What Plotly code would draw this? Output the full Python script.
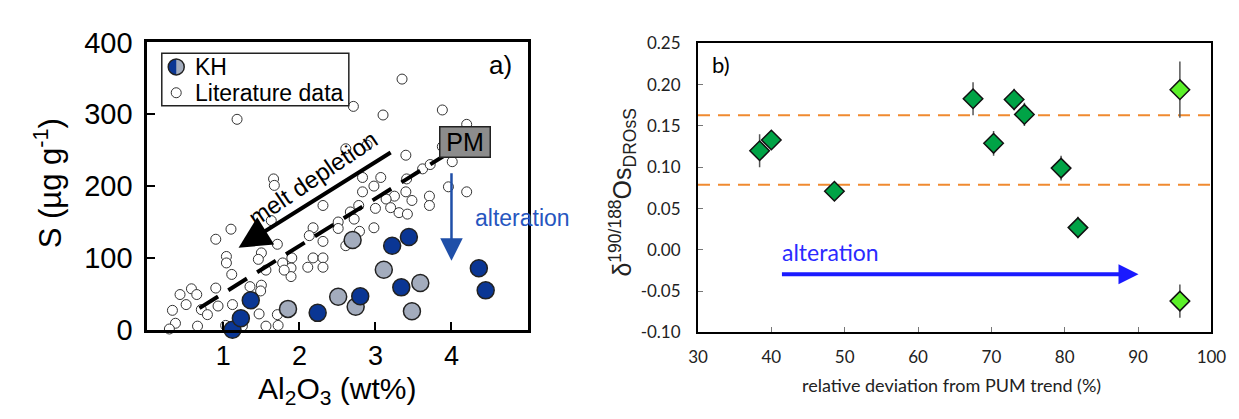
import plotly.graph_objects as go

# ---------------- Panel a) data ----------------
lit_x = [3.35, 1.18, 2.71, 3.10, 3.88, 4.20, 3.88, 4.01, 3.40, 2.61, 2.89, 3.62, 3.72, 3.96, 4.20,
         1.66, 1.67, 2.83, 3.07, 3.41, 2.98, 2.83, 3.40, 3.25, 3.14, 3.48, 3.71, 3.71, 3.20, 3.31,
         3.42, 3.00, 2.78, 2.67, 2.72, 2.31, 1.63, 2.98, 2.51, 2.51, 2.18, 2.13, 2.31, 2.61, 1.10,
         0.90, 1.71, 1.04, 1.04, 1.11, 1.50, 1.46, 1.90, 1.89, 1.89, 1.78, 1.80, 2.11, 2.18, 2.31,
         2.31, 1.56, 0.90, 0.58, 0.65, 0.43, 0.51, 0.33, 0.71, 0.79, 0.93, 1.12, 1.35, 1.50, 1.49,
         1.47, 1.71, 0.37, 0.29, 0.66, 1.03, 1.25, 1.56, 1.72, 2.79]
lit_y = [349, 293, 311, 299, 306, 286, 255, 234, 243, 252, 257, 224, 230, 199, 192,
         210, 201, 212, 212, 210, 200, 192, 192, 186, 182, 180, 186, 173, 170, 163,
         161, 169, 173, 164, 154, 173, 152, 142, 150, 141, 142, 131, 123, 117, 140,
         126, 119, 102, 93, 77, 107, 98, 100, 86, 74, 93, 83, 87, 100, 100,
         87, 83, 58, 57, 49, 49, 35, 27, 28, 21, 33, 35, 60, 62, 54,
         22, 21, 9, 1, 5, 6, 5, 5, 6, 137]
kh_dark_x = [1.12, 1.23, 1.36, 2.24, 2.80, 3.22, 3.44, 3.34, 4.36, 4.45]
kh_dark_y = [0, 16, 41, 23.5, 46.6, 117, 129, 59, 85.6, 54.8]
kh_gray_x = [1.85, 2.51, 2.74, 2.70, 3.11, 3.59, 3.48]
kh_gray_y = [29, 45.8, 32, 125, 83.4, 65, 25.7]
pm_trend_x = [0.685, 3.93]
pm_trend_y = [30, 244]
a_xticks = [1, 2, 3, 4]
a_yticks = [0, 100, 200, 300, 400]

# ---------------- Panel b) data ----------------
dev_x = [38.4, 40.0, 48.6, 67.5, 70.3, 73.1, 74.5, 79.5, 81.8]
dev_y = [0.120, 0.133, 0.071, 0.183, 0.129, 0.182, 0.164, 0.099, 0.027]
dev_err = [0.020, 0.006, 0.005, 0.020, 0.015, 0.013, 0.014, 0.015, 0.013]
dev2_x = [95.7, 95.7]
dev2_y = [0.194, -0.062]
dev2_err = [0.034, 0.020]
ref_levels = [0.163, 0.079]
b_xticks = [30, 40, 50, 60, 70, 80, 90, 100]
b_yticks = [-0.10, -0.05, 0.00, 0.05, 0.10, 0.15, 0.20, 0.25]
b_yticktext = ["-0.10", "-0.05", "0.00", "0.05", "0.10", "0.15", "0.20", "0.25"]

ARIAL = "Liberation Sans, Arial, sans-serif"
CAL = "Lato, Carlito, sans-serif"
W, H = 1239, 419

fig = go.Figure()

# panel a traces
fig.add_trace(go.Scatter(x=lit_x, y=lit_y, mode="markers", xaxis="x", yaxis="y", cliponaxis=False,
                         marker=dict(symbol="circle", size=10, color="white",
                                     line=dict(color="#333333", width=1))))
fig.add_trace(go.Scatter(x=pm_trend_x, y=pm_trend_y, mode="lines", xaxis="x", yaxis="y",
                         line=dict(color="black", width=4, dash="22px,12px")))
fig.add_trace(go.Scatter(x=kh_gray_x, y=kh_gray_y, mode="markers", xaxis="x", yaxis="y", cliponaxis=False,
                         marker=dict(symbol="circle", size=17, color="#a3acbd",
                                     line=dict(color="#222222", width=1.5))))
fig.add_trace(go.Scatter(x=kh_dark_x, y=kh_dark_y, mode="markers", xaxis="x", yaxis="y", cliponaxis=False,
                         marker=dict(symbol="circle", size=17, color="#0a3694",
                                     line=dict(color="#222222", width=1.5))))

# panel b traces
for lvl in ref_levels:
    fig.add_trace(go.Scatter(x=[b_xticks[0], b_xticks[-1]], y=[lvl, lvl], mode="lines",
                             xaxis="x2", yaxis="y2",
                             line=dict(color="#f08a30", width=2, dash="12px,8px")))
fig.add_trace(go.Scatter(x=dev_x, y=dev_y, mode="markers", xaxis="x2", yaxis="y2", cliponaxis=False,
                         error_y=dict(type="data", array=dev_err, visible=True, color="#555555",
                                      thickness=1.5, width=0),
                         marker=dict(symbol="diamond", size=15, color="#00a346",
                                     line=dict(color="#111111", width=1.5))))
fig.add_trace(go.Scatter(x=dev2_x, y=dev2_y, mode="markers", xaxis="x2", yaxis="y2", cliponaxis=False,
                         error_y=dict(type="data", array=dev2_err, visible=True, color="#555555",
                                      thickness=1.5, width=0),
                         marker=dict(symbol="diamond", size=15, color="#5cf02a",
                                     line=dict(color="#111111", width=1.5))))

annotations = []
# panel a annotations
annotations.append(dict(x=1.20, y=114, ax=3.22, ay=248, xref="x", yref="y", axref="x", ayref="y",
                        text="", showarrow=True, arrowhead=2, arrowsize=1.6, arrowwidth=4,
                        arrowcolor="black", standoff=0))
annotations.append(dict(x=2.17, y=211, xref="x", yref="y", text="melt depletion", showarrow=False,
                        textangle=-34, xanchor="center", yanchor="middle",
                        font=dict(family=ARIAL, size=24, color="black")))
annotations.append(dict(x=4.0, y=96, ax=4.0, ay=220, xref="x", yref="y", axref="x", ayref="y",
                        text="", showarrow=True, arrowhead=2, arrowsize=1.8, arrowwidth=2.5,
                        arrowcolor="#1f4fa8", standoff=0))
annotations.append(dict(x=4.93, y=156, xref="x", yref="y", text="alteration", showarrow=False,
                        xanchor="center", yanchor="middle",
                        font=dict(family=ARIAL, size=23, color="#2656c0")))
annotations.append(dict(x=4.18, y=261, xref="x", yref="y", text="PM", showarrow=False,
                        xanchor="center", yanchor="middle",
                        bgcolor="#8c8c8c", bordercolor="#222222", borderwidth=1.5, borderpad=1,
                        width=47, height=27, font=dict(family=ARIAL, size=25, color="black")))
annotations.append(dict(x=4.65, y=368, xref="x", yref="y", text="a)", showarrow=False,
                        xanchor="center", yanchor="middle",
                        font=dict(family=ARIAL, size=26, color="black")))
annotations.append(dict(x=0.60, y=366, xref="x", yref="y", text="KH", showarrow=False,
                        xanchor="left", yanchor="middle",
                        font=dict(family=ARIAL, size=23, color="black")))
annotations.append(dict(x=0.60, y=330, xref="x", yref="y", text="Literature data", showarrow=False,
                        xanchor="left", yanchor="middle",
                        font=dict(family=ARIAL, size=23, color="black")))
# axis titles panel a
annotations.append(dict(x=30 / W, y=1 - 172 / H, xref="paper", yref="paper", showarrow=False,
                        xanchor="center", yanchor="middle",
                        text="S (µg g<sup>-1</sup>)", textangle=-90,
                        font=dict(family=ARIAL, size=31, color="black")))
annotations.append(dict(x=326 / W, y=1 - 397 / H, xref="paper", yref="paper", showarrow=False,
                        xanchor="center", yanchor="middle",
                        text="Al<sub>2</sub>O<sub>3</sub> (wt%)",
                        font=dict(family=ARIAL, size=30, color="black")))
# panel b annotations
annotations.append(dict(x=90.06, y=-0.0295, ax=41.24, ay=-0.0295, xref="x2", yref="y2",
                        axref="x2", ayref="y2", text="", showarrow=True, arrowhead=2, arrowsize=1,
                        arrowwidth=4, arrowcolor="#1a1aff", standoff=0))
annotations.append(dict(x=48.1, y=-0.0024, xref="x2", yref="y2", text="alteration", showarrow=False,
                        xanchor="center", yanchor="middle",
                        font=dict(family=CAL, size=23, color="#2b2bff")))
annotations.append(dict(x=33.2, y=0.224, xref="x2", yref="y2", text="b)", showarrow=False,
                        xanchor="center", yanchor="middle",
                        font=dict(family=CAL, size=22, color="black")))
annotations.append(dict(x=617 / W, y=1 - 183 / H, xref="paper", yref="paper", showarrow=False,
                        xanchor="center", yanchor="middle",
                        text="δ<sup>190/188</sup>Os<sub>DROsS</sub>", textangle=-90,
                        font=dict(family=ARIAL, size=25, color="#222222")))
annotations.append(dict(x=953 / W, y=1 - 391 / H, xref="paper", yref="paper", showarrow=False,
                        xanchor="center", yanchor="middle",
                        text="relative deviation from PUM trend (%)",
                        font=dict(family=CAL, size=18, color="#222222")))

# legend (panel a) built from shapes
R = 8
half = "M 0,{r} C -{k},{r} -{r},{k} -{r},0 C -{r},-{k} -{k},-{r} 0,-{r} Z".format(r=R, k=round(0.5523 * R, 2))
shapes = [
    dict(type="rect", xref="x", yref="y", x0=0.19, x1=2.65, y0=312, y1=385,
         line=dict(color="#222222", width=1.5), fillcolor="white", layer="above"),
    dict(type="circle", xref="x", yref="y", xsizemode="pixel", ysizemode="pixel",
         xanchor=0.38, yanchor=366, x0=-R, x1=R, y0=-R, y1=R,
         fillcolor="#a3acbd", line=dict(width=0), layer="above"),
    dict(type="path", xref="x", yref="y", xsizemode="pixel", ysizemode="pixel",
         xanchor=0.38, yanchor=366, path=half, fillcolor="#0a3694", line=dict(width=0), layer="above"),
    dict(type="circle", xref="x", yref="y", xsizemode="pixel", ysizemode="pixel",
         xanchor=0.38, yanchor=366, x0=-R, x1=R, y0=-R, y1=R,
         fillcolor="rgba(0,0,0,0)", line=dict(color="#222222", width=1.5), layer="above"),
    dict(type="circle", xref="x", yref="y", xsizemode="pixel", ysizemode="pixel",
         xanchor=0.38, yanchor=330, x0=-5, x1=5, y0=-5, y1=5,
         fillcolor="white", line=dict(color="#333333", width=1), layer="above"),
]

fig.update_layout(
    width=W, height=419, margin=dict(l=0, r=0, t=0, b=0),
    paper_bgcolor="white", plot_bgcolor="white", showlegend=False,
    annotations=annotations, shapes=shapes,
    xaxis=dict(domain=[132 / W, 520 / W], range=[0, 5], tickvals=a_xticks, ticks="inside",
               ticklen=8, tickwidth=2, tickcolor="black", showline=True, mirror=True,
               linewidth=3, linecolor="black", showgrid=False, zeroline=False,
               tickfont=dict(family=ARIAL, size=27, color="black"), anchor="y"),
    yaxis=dict(domain=[1 - 331 / H, 1 - 20 / H], range=[0, 400], tickvals=a_yticks, ticks="inside",
               ticklen=8, tickwidth=2, tickcolor="black", showline=True, mirror=True,
               linewidth=3, linecolor="black", showgrid=False, zeroline=False,
               tickfont=dict(family=ARIAL, size=29, color="black"), anchor="x",
               ticklabelstandoff=6),
    xaxis2=dict(domain=[694 / W, 1218 / W], range=[30, 100], tickvals=b_xticks, ticks="inside",
                ticklen=5, tickwidth=1, tickcolor="#777777", showline=True, mirror=True,
                linewidth=2, linecolor="black", showgrid=False, zeroline=False,
                tickfont=dict(family=CAL, size=17, color="#222222"), anchor="y2",
                ticklabelstandoff=8),
    yaxis2=dict(domain=[1 - 334 / H, 1 - 21 / H], range=[-0.10, 0.25], tickvals=b_yticks,
                ticktext=b_yticktext, ticks="inside", ticklen=5, tickwidth=1, tickcolor="#777777",
                showline=True, mirror=True, linewidth=2, linecolor="black", showgrid=False,
                zeroline=False, tickfont=dict(family=CAL, size=17, color="#222222"), anchor="x2",
                ticklabelstandoff=12),
)

fig.write_html("out.html")
